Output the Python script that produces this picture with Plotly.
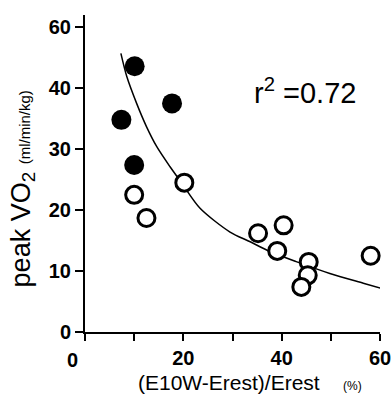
import plotly.graph_objects as go

# Data
filled_x = [10.1, 17.7, 7.4, 10.0]
filled_y = [43.6, 37.5, 34.8, 27.4]

open_x = [20.2, 10.0, 12.5, 35.2, 40.4, 39.1, 45.5, 45.3, 44.0, 58.1]
open_y = [24.5, 22.5, 18.7, 16.2, 17.5, 13.3, 11.5, 9.3, 7.4, 12.5]

# regression curve
fit_x = [7.3, 8.5, 10.5, 12.5, 14.6, 17.3, 19.7, 23.4, 29.5, 33.6, 37.6, 43.1, 49.8, 56.6, 61.4]
fit_y = [45.7, 41.9, 37.5, 33.7, 30.4, 27.1, 24.4, 20.3, 16.4, 14.8, 13.2, 11.5, 9.6, 8.0, 6.9]

x_tickvals = [20, 40, 60]
x_ticktext = ["20", "40", "60"]
y_tickvals = [0, 10, 20, 30, 40, 50]
y_ticktext = ["0", "10", "20", "30", "40", "60"]

FONT = "Liberation Sans, Arial, sans-serif"

fig = go.Figure()
fig.add_trace(go.Scatter(x=fit_x, y=fit_y, mode="lines",
                         line=dict(color="black", width=1.5, shape="spline", smoothing=0.8),
                         hoverinfo="skip", showlegend=False))
fig.add_trace(go.Scatter(x=filled_x, y=filled_y, mode="markers",
                         marker=dict(symbol="circle", size=20, color="black",
                                     line=dict(color="black", width=0)),
                         showlegend=False))
fig.add_trace(go.Scatter(x=open_x, y=open_y, mode="markers",
                         marker=dict(symbol="circle", size=17, color="white",
                                     line=dict(color="black", width=3)),
                         showlegend=False, cliponaxis=False))

fig.update_layout(
    width=391, height=399,
    margin=dict(l=85, r=11, t=15, b=67, autoexpand=False),
    paper_bgcolor="white", plot_bgcolor="white",
    font=dict(family=FONT, color="black"),
    xaxis=dict(range=[0, 60], tickvals=x_tickvals, ticktext=x_ticktext,
               automargin=False, ticklabeloverflow="allow",
               showgrid=False, zeroline=False, showline=True, linecolor="black",
               linewidth=2, ticks="outside", ticklen=7, tickwidth=2, tickcolor="black",
               minor=dict(ticks="outside", tick0=0, dtick=10, ticklen=7, tickwidth=2,
                          tickcolor="black", showgrid=False),
               tickfont=dict(family=FONT, size=20, color="black", weight="bold")),
    yaxis=dict(range=[0, 52], tickvals=y_tickvals, ticktext=y_ticktext,
               automargin=False, ticklabeloverflow="allow",
               showgrid=False, zeroline=False, showline=True, linecolor="black",
               linewidth=2, ticks="outside", ticklen=8, tickwidth=2, tickcolor="black",
               tickfont=dict(family=FONT, size=20, color="black", weight="bold")),
    annotations=[
        dict(text="0", x=0, y=0, xref="x", yref="y", xshift=-13, yshift=-28,
             showarrow=False, font=dict(family=FONT, size=20, weight="bold")),
        dict(text="r<sup>2</sup> =0.72", x=44.7, y=39.6, xref="x", yref="y",
             showarrow=False, font=dict(family=FONT, size=29)),
        dict(text="(E10W-Erest)/Erest    <span style='font-size:12px'>(%)</span>",
             x=0.56, y=-0.16, xref="paper", yref="paper", xanchor="center", yanchor="middle",
             showarrow=False, font=dict(family=FONT, size=21)),
        dict(text="peak VO<sub>2</sub> <span style='font-size:15px'>(ml/min/kg)</span>",
             x=-0.21, y=0.45, xref="paper", yref="paper", textangle=-90,
             xanchor="center", yanchor="middle",
             showarrow=False, font=dict(family=FONT, size=27)),
    ],
)

fig.write_html("out.html", config={"displayModeBar": False},
               post_script="document.body.style.margin='0';document.body.style.overflow='hidden';")
